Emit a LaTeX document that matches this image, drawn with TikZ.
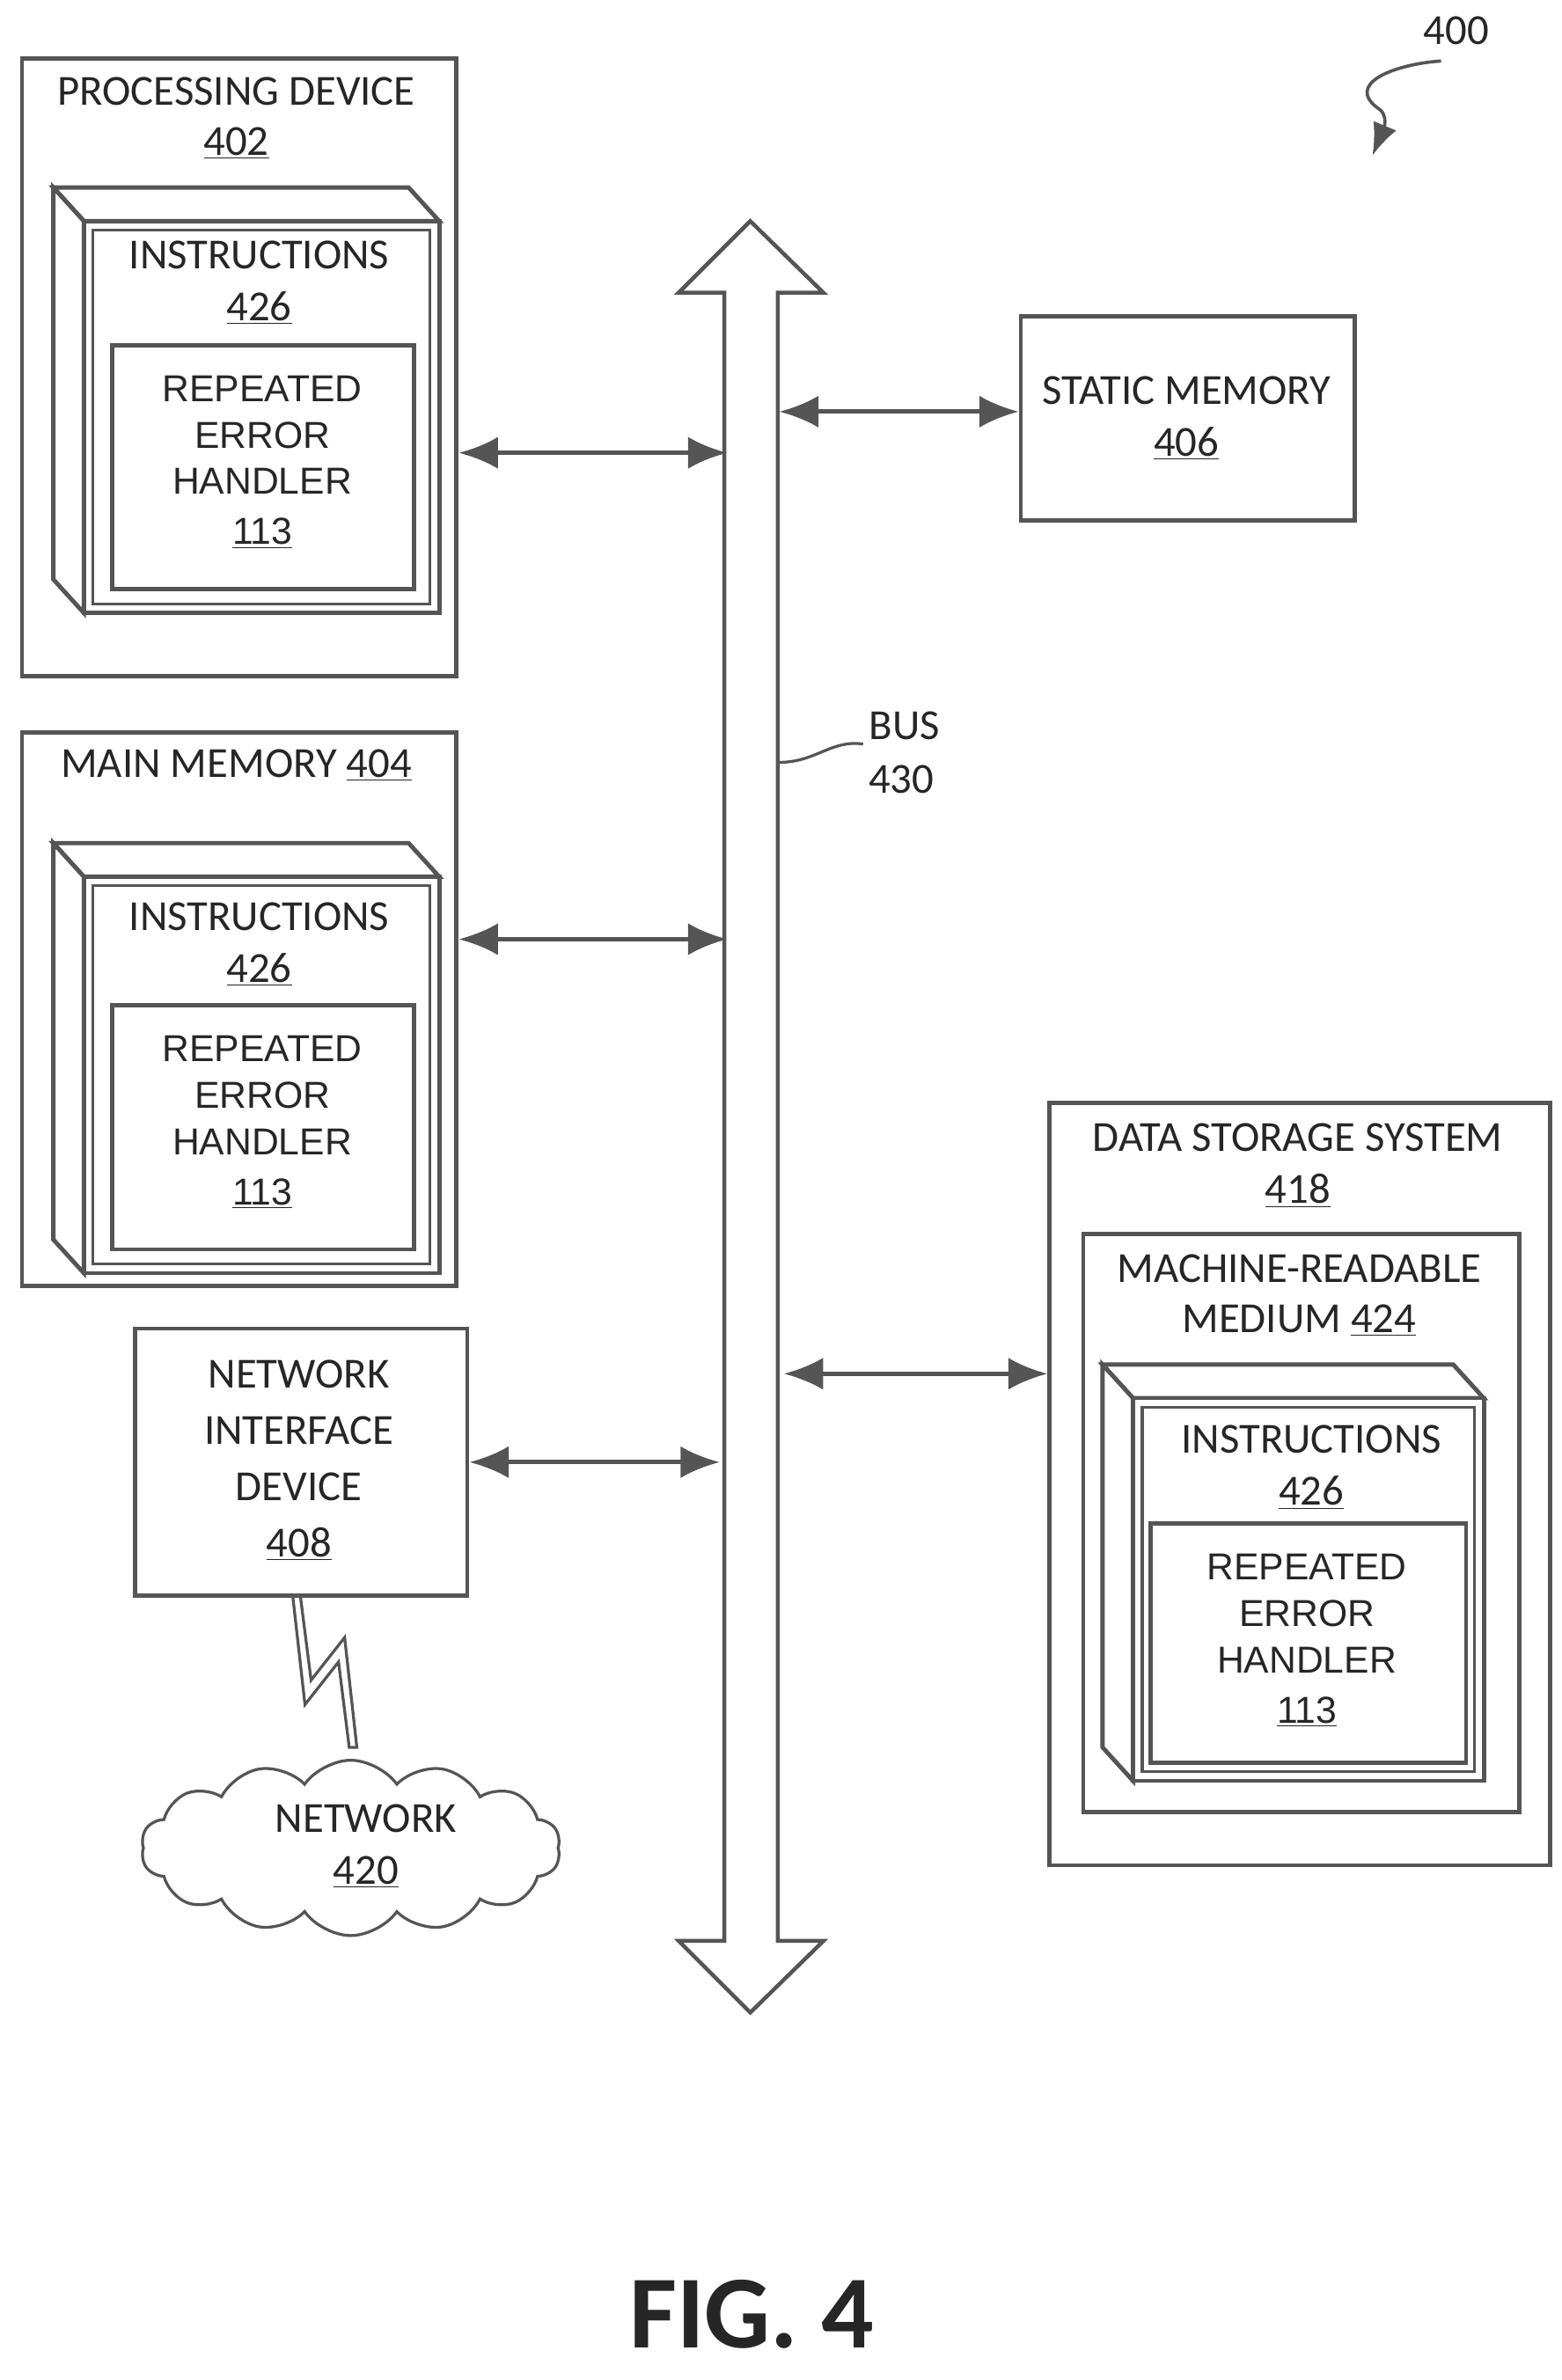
\documentclass[tikz,border=0pt]{standalone}
\usepackage{fontspec}
\setmainfont{Carlito}
\newfontfamily\arialish{Liberation Sans}
\usetikzlibrary{shapes.symbols,arrows.meta}
\definecolor{linegray}{HTML}{555555}

\tikzset{
    box/.style={draw=linegray, line width=2.4pt, fill=white},
    txt/.style={font=\fontsize{24}{29.5}\selectfont, text=black!85, inner sep=0pt},
    inner/.style={font=\arialish\fontsize{21}{26}\selectfont, text=black!85, inner sep=0pt, align=center},
    link/.style={draw=linegray, line width=2.4pt, {Latex[length=22pt,width=18pt]}-{Latex[length=22pt,width=18pt]}}
}
\newcommand{\num}[1]{\underline{#1}}
% 3D instructions block: left, top, right, bottom of front face
\newcommand{\cube}[4]{
    \draw[box] (#1-20,#2-22) -- (#3-20,#2-22) -- (#3,#2) -- (#1,#2) -- cycle;
    \draw[box] (#1-20,#2-22) -- (#1,#2) -- (#1,#4) -- (#1-20,#4-22) -- cycle;
    \draw[box] (#1,#2) rectangle (#3,#4);
    \draw[draw=linegray, line width=1.6pt] (#1+6,#2+6) rectangle (#3-6,#4-6);
}

\begin{document}
\begin{tikzpicture}[x=0.03cm, y=-0.03cm]
    \useasboundingbox (0,0) rectangle (1024,1561);

    % processing device
    \node[box, minimum width=285*0.03cm, minimum height=405*0.03cm, anchor=north west] (pd) at (13,37) {};
    \node[txt] (pdl) at (155,60) {PROCESSING DEVICE};
    \node[txt] (pdn) at (155,94) {\num{402}};
    \cube{55}{145}{288}{402}
    \node[txt] (pdi) at (170,167) {INSTRUCTIONS};
    \node[txt] (pdin) at (170,202) {\num{426}};
    \node[box, minimum width=198*0.03cm, minimum height=160*0.03cm, anchor=north west] (pdh) at (72,225) {};
    \node[inner] (pdht) at (172,303) {REPEATED\\ERROR\\HANDLER\\[2pt]\num{113}};

    % main memory
    \node[box, minimum width=285*0.03cm, minimum height=363*0.03cm, anchor=north west] (mm) at (13,479) {};
    \node[txt] (mml) at (155,502) {MAIN MEMORY \num{404}};
    \cube{55}{575}{288}{835}
    \node[txt] (mmi) at (170,601) {INSTRUCTIONS};
    \node[txt] (mmin) at (170,636) {\num{426}};
    \node[box, minimum width=198*0.03cm, minimum height=160*0.03cm, anchor=north west] (mmh) at (72,658) {};
    \node[inner] (mmht) at (172,736) {REPEATED\\ERROR\\HANDLER\\[2pt]\num{113}};

    % network interface and network
    \node[box, minimum width=218*0.03cm, minimum height=175*0.03cm, anchor=north west] (nid) at (87,870) {};
    \node[txt, align=center] (nidt) at (196,958) {NETWORK\\[2pt]INTERFACE\\[2pt]DEVICE\\[2pt]\num{408}};
    \draw[draw=linegray, line width=1.6pt, fill=white] (197,1047) -- (204,1102) -- (226,1074) -- (234,1146) -- (229,1146) -- (222,1090) -- (200,1118) -- (192,1047) -- cycle;
    \node[cloud, cloud puffs=14, cloud puff arc=110, aspect=2.6, draw=linegray, line width=1.6pt, fill=white,
        minimum width=275*0.03cm, minimum height=115*0.03cm] (net) at (230,1212) {};
    \node[txt] (netl) at (240,1193) {NETWORK};
    \node[txt] (netn) at (240,1228) {\num{420}};

    % bus
    \draw[box, line width=2.2pt] (492,145) -- (540,192) -- (510,192) -- (510,1273) -- (540,1273) -- (492,1320)
        -- (445,1273) -- (475,1273) -- (475,192) -- (445,192) -- cycle;
    \coordinate (bus) at (511,500);
    \node[txt] (busl) at (593,476) {BUS};
    \node[txt] (busn) at (591,511) {430};
    \draw[draw=linegray, line width=1.6pt] (bus) .. controls (535,500) and (545,485) .. (566,488);

    % static memory
    \node[box, minimum width=219*0.03cm, minimum height=134*0.03cm, anchor=north west] (sm) at (668,206) {};
    \node[txt] (sml) at (778,256) {STATIC MEMORY};
    \node[txt] (smn) at (778,291) {\num{406}};

    % data storage system
    \node[box, minimum width=328*0.03cm, minimum height=500*0.03cm, anchor=north west] (dss) at (687,722) {};
    \node[txt] (dssl) at (851,746) {DATA STORAGE SYSTEM};
    \node[txt] (dssn) at (851,781) {\num{418}};
    \node[box, minimum width=286*0.03cm, minimum height=379*0.03cm, anchor=north west] (mrm) at (709,808) {};
    \node[txt] (mrml) at (852,832) {MACHINE-READABLE};
    \node[txt] (mrmn) at (852,866) {MEDIUM \num{424}};
    \cube{743}{917}{973}{1168}
    \node[txt] (dsi) at (860,944) {INSTRUCTIONS};
    \node[txt] (dsin) at (860,979) {\num{426}};
    \node[box, minimum width=207*0.03cm, minimum height=157*0.03cm, anchor=north west] (dsh) at (753,998) {};
    \node[inner] (dsht) at (857,1076) {REPEATED\\ERROR\\HANDLER\\[2pt]\num{113}};

    % connectors to the bus
    \coordinate (b1) at (477,297);
    \coordinate (b2) at (511,270);
    \coordinate (b3) at (477,616);
    \coordinate (b4) at (472,959);
    \coordinate (b5) at (514,901);
    \draw[link] (pd.east |- b1) -- (b1);
    \draw[link] (b2) -- (sm.west |- b2);
    \draw[link] (mm.east |- b3) -- (b3);
    \draw[link] (nid.east |- b4) -- (b4);
    \draw[link] (b5) -- (dss.west |- b5);

    % figure reference
    \node[txt] (ref) at (955,20) {400};
    \coordinate (refa) at (945,40);
    \draw[draw=linegray, line width=1.8pt, -{Latex[length=18pt,width=14pt]}] (refa) .. controls (915,42) and (880,55) .. (905,72) .. controls (912,78) and (905,90) .. (900,102);

    \node[font=\bfseries\fontsize{58}{70}\selectfont, text=black!85] (fig) at (493,1518) {FIG. 4};
\end{tikzpicture}
\end{document}
